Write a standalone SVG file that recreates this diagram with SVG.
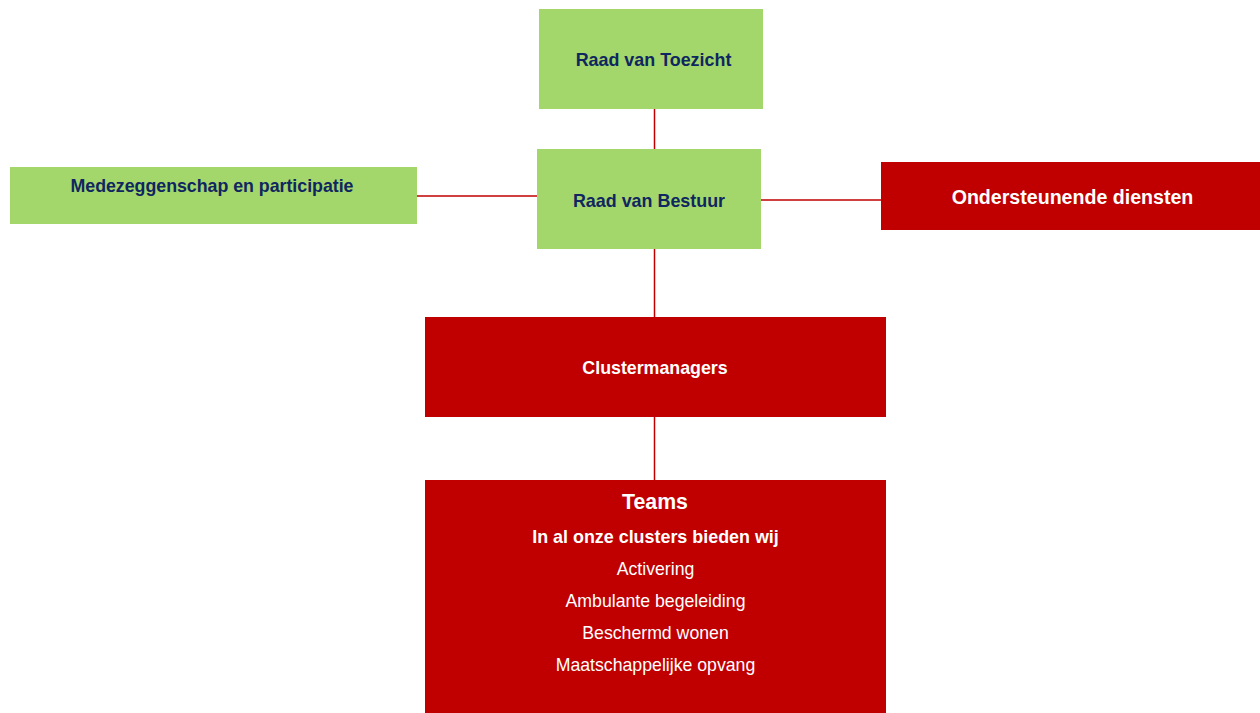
<svg xmlns="http://www.w3.org/2000/svg" width="1260" height="713" viewBox="0 0 1260 713">
<style>
.g{fill:#A4D76B}
.r{fill:#C00000}
.tg{font-family:"Liberation Sans",Arial,sans-serif;font-weight:bold;fill:#0F2660;text-anchor:middle}
.tw{font-family:"Liberation Sans",Arial,sans-serif;fill:#FFFFFF;text-anchor:middle}
.b{font-weight:bold}
.c{stroke:#C00000;stroke-width:1.5;fill:none}
</style>
<rect width="1260" height="713" fill="#FFFFFF"/>
<g id="connectors">
<line class="c" x1="654.5" y1="109" x2="654.5" y2="149"/>
<line class="c" x1="654.5" y1="249" x2="654.5" y2="317"/>
<line class="c" x1="654.5" y1="417" x2="654.5" y2="480"/>
<line class="c" x1="417" y1="196" x2="537" y2="196"/>
<line class="c" x1="761" y1="200" x2="881" y2="200"/>
</g>
<g id="raad-van-toezicht">
<rect class="g" x="539" y="9" width="224" height="100"/>
<text class="tg" x="653.5" y="66" font-size="17.9">Raad van Toezicht</text>
</g>
<g id="raad-van-bestuur">
<rect class="g" x="537" y="149" width="224" height="100"/>
<text class="tg" x="649" y="207" font-size="17.9">Raad van Bestuur</text>
</g>
<g id="medezeggenschap">
<rect class="g" x="10" y="167" width="407" height="57"/>
<text class="tg" x="212" y="192" font-size="17.8" textLength="283">Medezeggenschap en participatie</text>
</g>
<g id="ondersteunende-diensten">
<rect class="r" x="881" y="162" width="379" height="68"/>
<text class="tw b" x="1072.5" y="204" font-size="19.6">Ondersteunende diensten</text>
</g>
<g id="clustermanagers">
<rect class="r" x="425" y="317" width="461" height="100"/>
<text class="tw b" x="655" y="374" font-size="17.8">Clustermanagers</text>
</g>
<g id="teams">
<rect class="r" x="425" y="480" width="461" height="233"/>
<text class="tw b" x="655" y="509" font-size="21.3">Teams</text>
<text class="tw b" x="655.5" y="543" font-size="17.9">In al onze clusters bieden wij</text>
<text class="tw" x="655.5" y="575" font-size="17.7">Activering</text>
<text class="tw" x="655.5" y="607" font-size="17.7">Ambulante begeleiding</text>
<text class="tw" x="655.5" y="639" font-size="17.7">Beschermd wonen</text>
<text class="tw" x="655.5" y="671" font-size="17.7">Maatschappelijke opvang</text>
</g>
</svg>
